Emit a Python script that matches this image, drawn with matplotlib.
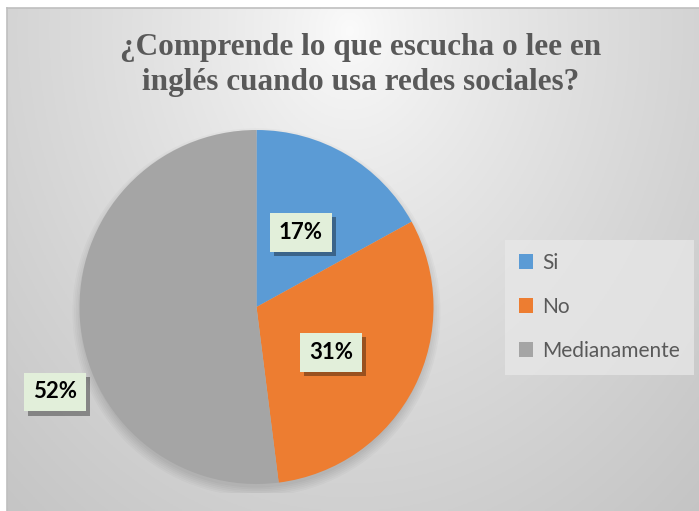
import matplotlib.pyplot as plt
import numpy as np
from matplotlib.patches import Patch
import matplotlib.patheffects as pe

titulo = "¿Comprende lo que escucha o lee en\ninglés cuando usa redes sociales?"
categorias = ["Si", "No", "Medianamente"]
porcentajes = [17, 31, 52]
colores = ["#5B9BD5", "#ED7D31", "#A5A5A5"]

W, H = 699, 511
fig = plt.figure(figsize=(W / 100, H / 100), dpi=100)
fig.patch.set_facecolor("white")

# fondo con degradado radial
bg = fig.add_axes([0, 0, 1, 1])
bg.axis("off")
x0, y0 = 7, 8
xx, yy = np.meshgrid(np.linspace(x0, W, 300), np.linspace(y0, H, 220))
d = np.sqrt(((xx - 350) / 420) ** 2 + ((yy - 30) / 520) ** 2)
d = np.clip(d, 0, 1.25) / 1.25
val = 0.985 - 0.215 * d ** 0.8
img = np.dstack([val, val, val])
bg.imshow(img, extent=(x0, W, H, y0), aspect="auto", zorder=0)
bg.plot([x0, W], [y0, y0], color="#BFBFBF", lw=1.2, zorder=1)
bg.plot([x0, x0], [y0, H], color="#BFBFBF", lw=1.2, zorder=1)
bg.set_xlim(0, W)
bg.set_ylim(H, 0)

fig.text(361 / W, 1 - 65 / H, titulo, ha="center", va="center", fontsize=22.5,
         fontweight="bold", family="Liberation Serif", color="#595959",
         linespacing=1.25)

# pastel
cx, cy, r = 256.5, 307, 177
ax = fig.add_axes([(cx - r * 1.05) / W, (H - cy - r * 1.05) / H,
                   2.1 * r / W, 2.1 * r / H])
ax.set_facecolor("none")
for k in range(6):
    sh = plt.Circle((0.0, -0.03), 0.99 + 0.01 * k, color="black",
                    alpha=0.025, lw=0, zorder=0)
    ax.add_patch(sh)
wedges, _ = ax.pie(porcentajes, colors=colores, startangle=90,
                   counterclock=False, radius=1,
                   wedgeprops=dict(linewidth=0))
ax.set_xlim(-1.05, 1.05)
ax.set_ylim(-1.05, 1.05)
ax.set_aspect("equal")
ax.axis("off")

pos_etiquetas = [(0.25, 0.42), (0.42, -0.255), (-1.14, -0.48)]
for (px, py), p in zip(pos_etiquetas, porcentajes):
    t = ax.text(px, py, f"{p}%", ha="center", va="center", fontsize=16,
                fontweight="bold", family="Lato", color="black",
                bbox=dict(boxstyle="square,pad=0.4", fc="#E2EFDA", ec="none"))
    t.get_bbox_patch().set_path_effects(
        [pe.SimplePatchShadow(offset=(3, -3), shadow_rgbFace="black", alpha=0.35),
         pe.Normal()])

handles = [Patch(facecolor=c, edgecolor="none") for c in colores]
leg = fig.legend(handles, categorias, loc="center left",
                 bbox_to_anchor=(505 / W, 1 - 307 / H), frameon=True,
                 fancybox=False, labelspacing=1.15,
                 handlelength=0.7, handleheight=0.7, handletextpad=0.45,
                 borderpad=0.65, borderaxespad=0,
                 prop=dict(family="Lato", size=15))
leg.get_frame().set_facecolor("#E8E8E8")
leg.get_frame().set_edgecolor("none")
leg.get_frame().set_alpha(0.75)
for t in leg.get_texts():
    t.set_color("#595959")

fig.savefig("out.png", dpi=100)
